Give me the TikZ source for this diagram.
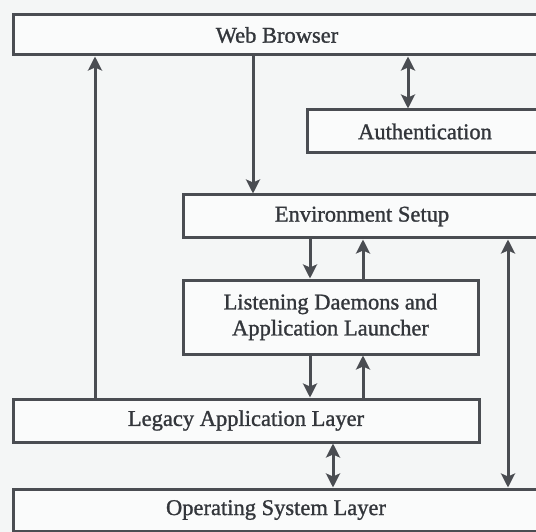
\documentclass[tikz,border=0pt]{standalone}
\usepackage{fontspec}
\setmainfont{Liberation Serif}
\newfontfamily\labelfont[FakeBold=1.2]{Liberation Serif}
\usetikzlibrary{arrows.meta}
\definecolor{ink}{HTML}{4A4D52}
\definecolor{txt}{HTML}{33363B}
\definecolor{paper}{HTML}{F4F6F6}
\definecolor{boxfill}{HTML}{FAFBFB}
\tikzset{
  layer/.style={draw=ink, line width=3pt, fill=boxfill, inner sep=0pt,
    text=txt, font=\labelfont\fontsize{22.5}{26}\selectfont, align=center},
  arr/.style={draw=ink, line width=3pt,
    -{Stealth[width=14pt,length=14pt,inset=3pt]}},
  darr/.style={draw=ink, line width=3pt,
    {Stealth[width=14pt,length=14pt,inset=3pt]}-{Stealth[width=14pt,length=14pt,inset=3pt]}}
}
\begin{document}
\begin{tikzpicture}[x=1pt,y=-1pt]
  \fill[paper] (0,0) rectangle (536,532);
  \useasboundingbox (0,0) rectangle (536,532);
  \begin{scope}
  \clip (0,0) rectangle (536,532);
  % layers
  \node[layer, minimum width=528pt, minimum height=40pt] (wb)   at (277,35)    {Web Browser};
  \node[layer, minimum width=236pt, minimum height=43pt] (auth) at (425,131.5) {Authentication};
  \node[layer, minimum width=358pt, minimum height=43pt] (env)  at (362,216.5) {Environment Setup};
  \node[layer, minimum width=295pt, minimum height=74pt] (lis)  at (330.5,317) {Listening Daemons and\\Application Launcher};
  \node[layer, minimum width=466pt, minimum height=43pt] (leg)  at (246,420.5) {Legacy Application Layer};
  \node[layer, minimum width=526pt, minimum height=42pt] (os)   at (276,510)   {Operating System Layer};
  % connector columns
  \coordinate (xl)  at (95,0);
  \coordinate (xwb) at (253,0);
  \coordinate (xau) at (408,0);
  \coordinate (xdn) at (310,0);
  \coordinate (xup) at (363,0);
  \coordinate (xos) at (333,0);
  \coordinate (xr)  at (508,0);
  % connectors
  \draw[arr]  (leg.north -| xl)  -- (wb.south -| xl);
  \draw[arr]  (wb.south -| xwb)  -- (env.north -| xwb);
  \draw[darr] (wb.south -| xau)  -- (auth.north -| xau);
  \draw[arr]  (env.south -| xdn) -- (lis.north -| xdn);
  \draw[arr]  (lis.north -| xup) -- (env.south -| xup);
  \draw[arr]  (lis.south -| xdn) -- (leg.north -| xdn);
  \draw[arr]  (leg.north -| xup) -- (lis.south -| xup);
  \draw[darr] (leg.south -| xos) -- (os.north -| xos);
  \draw[darr] (env.south -| xr)  -- (os.north -| xr);
  \end{scope}
\end{tikzpicture}
\end{document}
